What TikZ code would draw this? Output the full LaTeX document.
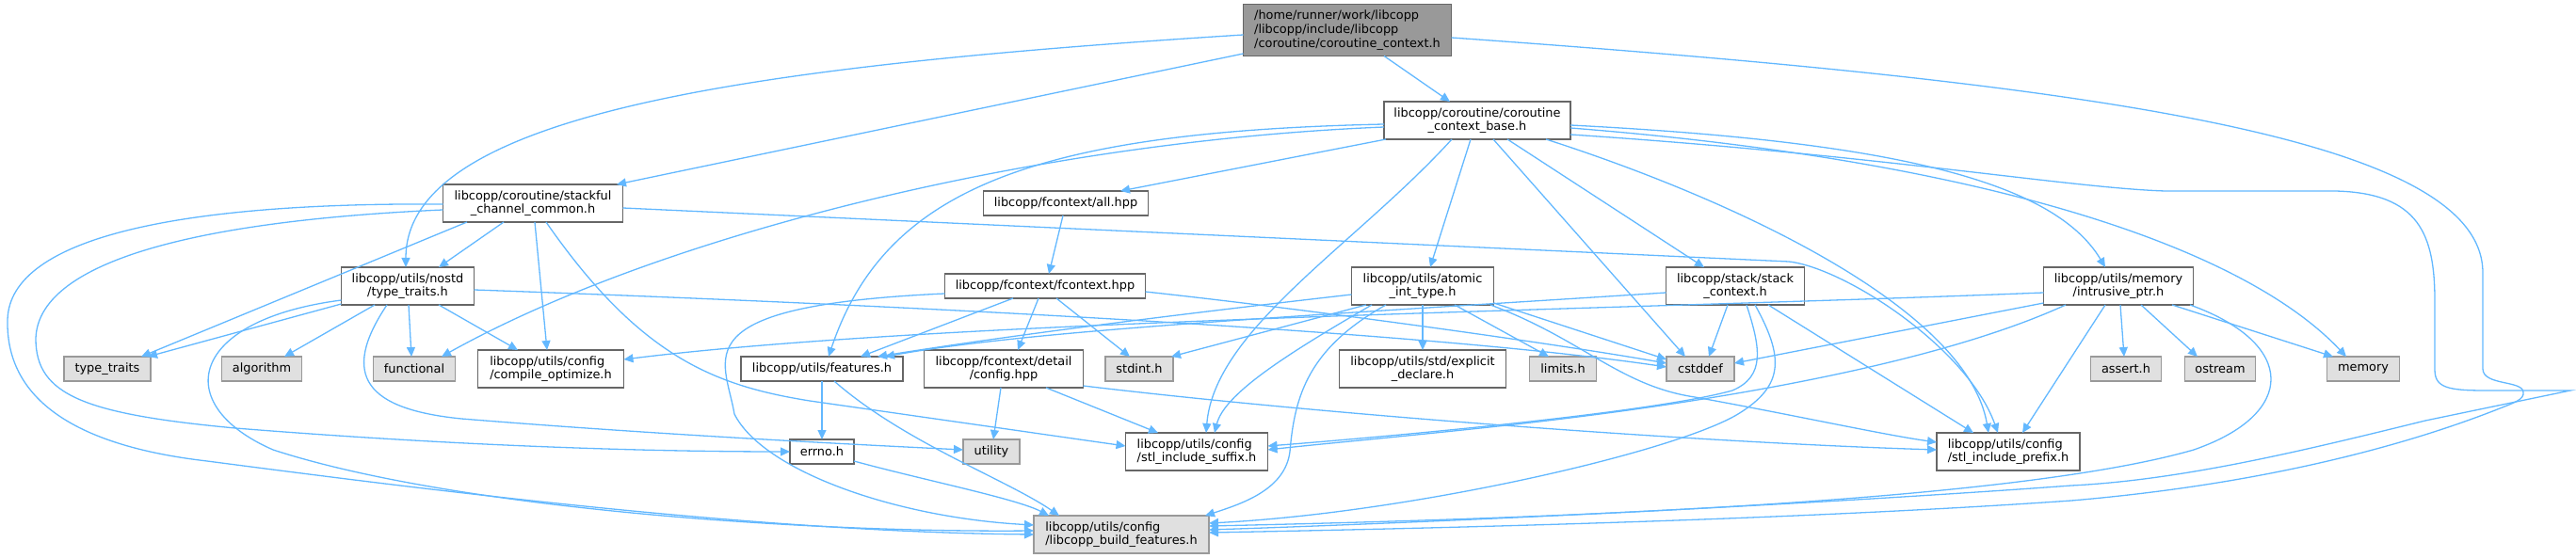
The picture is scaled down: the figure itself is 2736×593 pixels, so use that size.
\documentclass[tikz,border=0pt]{standalone}
\usepackage{fontspec}
\setmainfont{DejaVu Sans}
\usetikzlibrary{arrows.meta,calc}
\definecolor{edgec}{HTML}{63B8FF}
\definecolor{nodeb}{HTML}{666666}
\definecolor{extb}{HTML}{999999}
\definecolor{extf}{HTML}{E0E0E0}
\definecolor{rootf}{HTML}{999999}
\newcommand{\lblfont}{\fontsize{12.9pt}{14.7pt}\selectfont}
\tikzset{
  box/.style={draw=nodeb, fill=white, line width=1.5pt, inner sep=0pt, font=\lblfont, align=center, text=black},
  ext/.style={box, draw=extb, fill=extf},
  rootbox/.style={box, fill=rootf, draw=nodeb, align=left},
  edge/.style={draw=edgec, line width=1.3pt, -{Triangle[length=10pt,width=9pt]}},
}
\begin{document}
\begin{tikzpicture}[x=1pt,y=1pt,yscale=-1]
\useasboundingbox (0,0) rectangle (2736,593);
% nodes
\node[rootbox, minimum width=221pt, minimum height=55pt] (root) at (1431,32) {/home/runner/work/libcopp\\/libcopp/include/libcopp\\/coroutine/coroutine\_context.h};
\node[box, minimum width=198pt, minimum height=40pt] (base) at (1569,128) {libcopp/coroutine/coroutine\\\_context\_base.h};
\node[box, minimum width=191pt, minimum height=40pt] (stackful) at (566,216) {libcopp/coroutine/stackful\\\_channel\_common.h};
\node[box, minimum width=175pt, minimum height=26pt] (allhpp) at (1132,216) {libcopp/fcontext/all.hpp};
\node[box, minimum width=141pt, minimum height=40pt] (nostd) at (433,304) {libcopp/utils/nostd\\/type\_traits.h};
\node[box, minimum width=213pt, minimum height=26pt] (fctx) at (1110,304) {libcopp/fcontext/fcontext.hpp};
\node[box, minimum width=151pt, minimum height=40pt] (atomic) at (1511,304) {libcopp/utils/atomic\\\_int\_type.h};
\node[box, minimum width=147pt, minimum height=40pt] (stackctx) at (1843,304) {libcopp/stack/stack\\\_context.h};
\node[box, minimum width=159pt, minimum height=40pt] (intr) at (2250,304) {libcopp/utils/memory\\/intrusive\_ptr.h};
\node[ext, minimum width=92pt, minimum height=26pt] (tt) at (114,392) {type\_traits};
\node[ext, minimum width=85pt, minimum height=26pt] (algo) at (278,392) {algorithm};
\node[ext, minimum width=87pt, minimum height=26pt] (func) at (440,392) {functional};
\node[box, align=left, minimum width=155pt, minimum height=40pt] (compopt) at (585,392) {libcopp/utils/config\\/compile\_optimize.h};
\node[box, minimum width=172pt, minimum height=26pt] (feat) at (873,392) {libcopp/utils/features.h};
\node[box, minimum width=169pt, minimum height=40pt] (detcfg) at (1066,392) {libcopp/fcontext/detail\\/config.hpp};
\node[ext, minimum width=72pt, minimum height=26pt] (stdint) at (1210,392) {stdint.h};
\node[box, minimum width=177pt, minimum height=40pt] (expl) at (1511,392) {libcopp/utils/std/explicit\\\_declare.h};
\node[ext, minimum width=71pt, minimum height=26pt] (limits) at (1660,392) {limits.h};
\node[ext, minimum width=72pt, minimum height=26pt] (cstddef) at (1806,392) {cstddef};
\node[ext, minimum width=75pt, minimum height=26pt] (assert) at (2258,392) {assert.h};
\node[ext, minimum width=75pt, minimum height=26pt] (ostream) at (2358,392) {ostream};
\node[ext, minimum width=77pt, minimum height=26pt] (memory) at (2510,392) {memory};
\node[box, minimum width=68pt, minimum height=26pt] (errno) at (873,480) {errno.h};
\node[ext, minimum width=60pt, minimum height=26pt] (utility) at (1053,480) {utility};
\node[box, align=left, minimum width=151pt, minimum height=40pt] (suffix) at (1271,480) {libcopp/utils/config\\/stl\_include\_suffix.h};
\node[box, align=left, minimum width=152pt, minimum height=40pt] (prefix) at (2133,480) {libcopp/utils/config\\/stl\_include\_prefix.h};
\node[ext, align=left, minimum width=186pt, minimum height=40pt] (bf) at (1191,568) {libcopp/utils/config\\/libcopp\_build\_features.h};

% root edges
\draw[edge] ($(root)+(39,27.5)$) -- ($(base)+(-29,-20)$);
\draw[edge] ($(root)+(-110.5,25)$) -- ($(stackful)+(89,-20)$);
\draw[edge] ($(root)+(-110.5,5)$) .. controls (800,70) and (431,120) .. ($(nostd)+(-2,-20)$);
\draw[edge] ($(root)+(110.5,8)$) .. controls (2250,90) and (2637,150) .. (2637,290) -- (2637,392)
  .. controls (2637,410) and (2680,404) .. (2680,417) .. controls (2681,425) and (2670,428) .. (2650,436)
  .. controls (2550,475) and (2400,515) .. (2200,532) .. controls (1900,553) and (1500,562) .. ($(bf)+(93,-2)$);

% base edges
\draw[edge] ($(base)+(-99,4)$) .. controls (1100,140) and (940,200) .. ($(feat)+(7,-13)$);
\draw[edge] ($(base)+(-99,7)$) .. controls (1100,150) and (700,250) .. ($(func)+(29,-13)$);
\draw[edge] ($(base)+(-97,20)$) -- ($(allhpp)+(58,-13)$);
\draw[edge] ($(base)+(-27,20)$) .. controls (1440,260) and (1290,350) .. ($(suffix)+(10,-20)$);
\draw[edge] ($(base)+(-7,20)$) -- ($(atomic)+(8,-20)$);
\draw[edge] ($(base)+(17,20)$) -- ($(cstddef)+(-16,-13)$);
\draw[edge] ($(base)+(32,20)$) -- ($(stackctx)+(-33,-20)$);
\draw[edge] ($(base)+(73,20)$) .. controls (1850,215) and (2090,330) .. ($(prefix)+(-21,-20)$);
\draw[edge] ($(base)+(99,5)$) .. controls (2000,150) and (2180,190) .. ($(intr)+(-14,-20)$);
\draw[edge] ($(base)+(99,8)$) .. controls (2100,170) and (2380,260) .. ($(memory)+(-18,-13)$);
\draw[edge] ($(base)+(99,15)$) .. controls (2000,165) and (2200,200) .. (2300,203) -- (2480,203)
  .. controls (2570,205) and (2586,250) .. (2586,320) -- (2586,393)
  .. controls (2586,412) and (2600,415) .. (2640,415) -- (2730,415) -- (2576,447)
  .. controls (2450,478) and (2320,510) .. (2200,516) .. controls (1900,538) and (1500,556) .. ($(bf)+(93,-5)$);

% stackful edges
\draw[edge] ($(stackful)+(-95.5,1)$) .. controls (200,215) and (10,250) .. (8,340)
  .. controls (6,430) and (90,475) .. (220,490) .. controls (450,520) and (800,565) .. ($(bf)+(-93,0)$);
\draw[edge] ($(stackful)+(-95.5,7)$) .. controls (200,235) and (40,280) .. (38,360)
  .. controls (38,420) and (90,440) .. (250,455) .. controls (500,475) and (700,480) .. ($(errno)+(-34,0)$);
\draw[edge] ($(stackful)+(-70,20)$) -- ($(tt)+(36,-13)$);
\draw[edge] ($(stackful)+(-31,20)$) -- ($(nostd)+(33,-20)$);
\draw[edge] ($(stackful)+(2,20)$) -- ($(compopt)+(-4,-20)$);
\draw[edge] ($(stackful)+(14,20)$) .. controls (680,380) and (760,410) .. (860,426) -- ($(suffix)+(-75.5,-6)$);
\draw[edge] ($(stackful)+(95.5,5)$) -- (1900,278) .. controls (1960,285) and (2090,370) .. ($(prefix)+(-11,-20)$);

% nostd edges
\draw[edge] ($(nostd)+(-70.5,15)$) .. controls (200,340) and (180,430) .. (290,478)
  .. controls (480,540) and (850,566) .. ($(bf)+(-93,-4)$);
\draw[edge] ($(nostd)+(-70.5,19)$) -- ($(tt)+(43,-13)$);
\draw[edge] ($(nostd)+(-35,20)$) -- ($(algo)+(24,-13)$);
\draw[edge] ($(nostd)+(-22,20)$) .. controls (360,400) and (390,435) .. (490,445)
  .. controls (700,462) and (900,472) .. ($(utility)+(-30,-2)$);
\draw[edge] ($(nostd)+(1,20)$) -- ($(func)+(-3,-13)$);
\draw[edge] ($(nostd)+(33,20)$) -- ($(compopt)+(-35,-20)$);
\draw[edge] ($(nostd)+(70.5,4)$) .. controls (900,322) and (1500,350) .. ($(cstddef)+(-36,-2)$);

% all.hpp
\draw[edge] ($(allhpp)+(-3,13)$) -- ($(fctx)+(4,-13)$);

% fcontext.hpp edges
\draw[edge] ($(fctx)+(-106.5,8)$) .. controls (720,325) and (770,380) .. (780,440)
  .. controls (810,500) and (950,550) .. ($(bf)+(-93,-10)$);
\draw[edge] ($(fctx)+(-34,13)$) -- ($(feat)+(41,-13)$);
\draw[edge] ($(fctx)+(-7,13)$) -- ($(detcfg)+(15,-20)$);
\draw[edge] ($(fctx)+(12,13)$) -- ($(stdint)+(-10,-13)$);
\draw[edge] ($(fctx)+(106.5,6)$) .. controls (1400,330) and (1650,365) .. ($(cstddef)+(-36,-6)$);

% detail/config.hpp edges
\draw[edge] ($(detcfg)+(-3,20)$) -- ($(utility)+(2,-13)$);
\draw[edge] ($(detcfg)+(45,20)$) -- ($(suffix)+(-41,-20)$);
\draw[edge] ($(detcfg)+(84.5,18)$) .. controls (1400,440) and (1800,470) .. ($(prefix)+(-76,-2)$);

% features.h edges
\draw[edge] ($(feat)+(0,13)$) -- ($(errno)+(0,-13)$);
\draw[edge] ($(feat)+(13,13)$) .. controls (960,470) and (1070,510) .. ($(bf)+(-66,-20)$);
\draw[edge] ($(errno)+(34,10)$) .. controls (980,510) and (1080,530) .. ($(bf)+(-77,-20)$);

% atomic edges
\draw[edge] ($(atomic)+(-75.5,9)$) .. controls (1200,340) and (1050,360) .. ($(feat)+(59,-13)$);
\draw[edge] ($(atomic)+(-60,20)$) -- ($(stdint)+(34,-13)$);
\draw[edge] ($(atomic)+(-54,20)$) .. controls (1360,380) and (1300,420) .. ($(suffix)+(19,-20)$);
\draw[edge] ($(atomic)+(-39,20)$) .. controls (1390,370) and (1375,420) .. (1370,480)
  .. controls (1365,520) and (1320,535) .. ($(bf)+(89,-20)$);
\draw[edge] ($(atomic)+(0,20)$) -- ($(expl)+(0,-20)$);
\draw[edge] ($(atomic)+(34,20)$) -- ($(limits)+(-15,-13)$);
\draw[edge] ($(atomic)+(75.5,18)$) -- ($(cstddef)+(-36,-10)$);
\draw[edge] ($(atomic)+(72,20)$) .. controls (1680,360) and (1720,410) .. (1800,422)
  .. controls (1900,440) and (2000,462) .. ($(prefix)+(-76,-10)$);

% stack_context edges
\draw[edge] ($(stackctx)+(-73.5,7)$) .. controls (1400,335) and (1100,350) .. ($(feat)+(67,-13)$);
\draw[edge] ($(stackctx)+(-8,20)$) -- ($(cstddef)+(9,-13)$);
\draw[edge] ($(stackctx)+(12,20)$) .. controls (1870,370) and (1875,400) .. (1840,415)
  .. controls (1750,440) and (1450,466) .. ($(suffix)+(75.5,-6)$);
\draw[edge] ($(stackctx)+(21,20)$) .. controls (1895,380) and (1895,410) .. (1846,440)
  .. controls (1780,480) and (1500,545) .. ($(bf)+(93,-12)$);
\draw[edge] ($(stackctx)+(35,20)$) -- ($(prefix)+(-37,-20)$);

% intrusive_ptr edges
\draw[edge] ($(intr)+(-79.5,7)$) .. controls (1700,330) and (1000,340) .. ($(compopt)+(77.5,-10)$);
\draw[edge] ($(intr)+(-79.5,18)$) -- ($(cstddef)+(36,-6)$);
\draw[edge] ($(intr)+(-56,20)$) .. controls (2050,390) and (1800,430) .. (1600,452)
  .. controls (1500,463) and (1400,472) .. ($(suffix)+(75.5,-2)$);
\draw[edge] ($(intr)+(-14,20)$) -- ($(prefix)+(15,-20)$);
\draw[edge] ($(intr)+(2,20)$) -- ($(assert)+(-2,-13)$);
\draw[edge] ($(intr)+(24,20)$) -- ($(ostream)+(-24,-13)$);
\draw[edge] ($(intr)+(57,20)$) -- ($(memory)+(-32,-13)$);
\draw[edge] ($(intr)+(76,20)$) .. controls (2440,365) and (2440,440) .. (2330,478)
  .. controls (2150,530) and (1700,550) .. ($(bf)+(93,-9)$);
\end{tikzpicture}
\end{document}
